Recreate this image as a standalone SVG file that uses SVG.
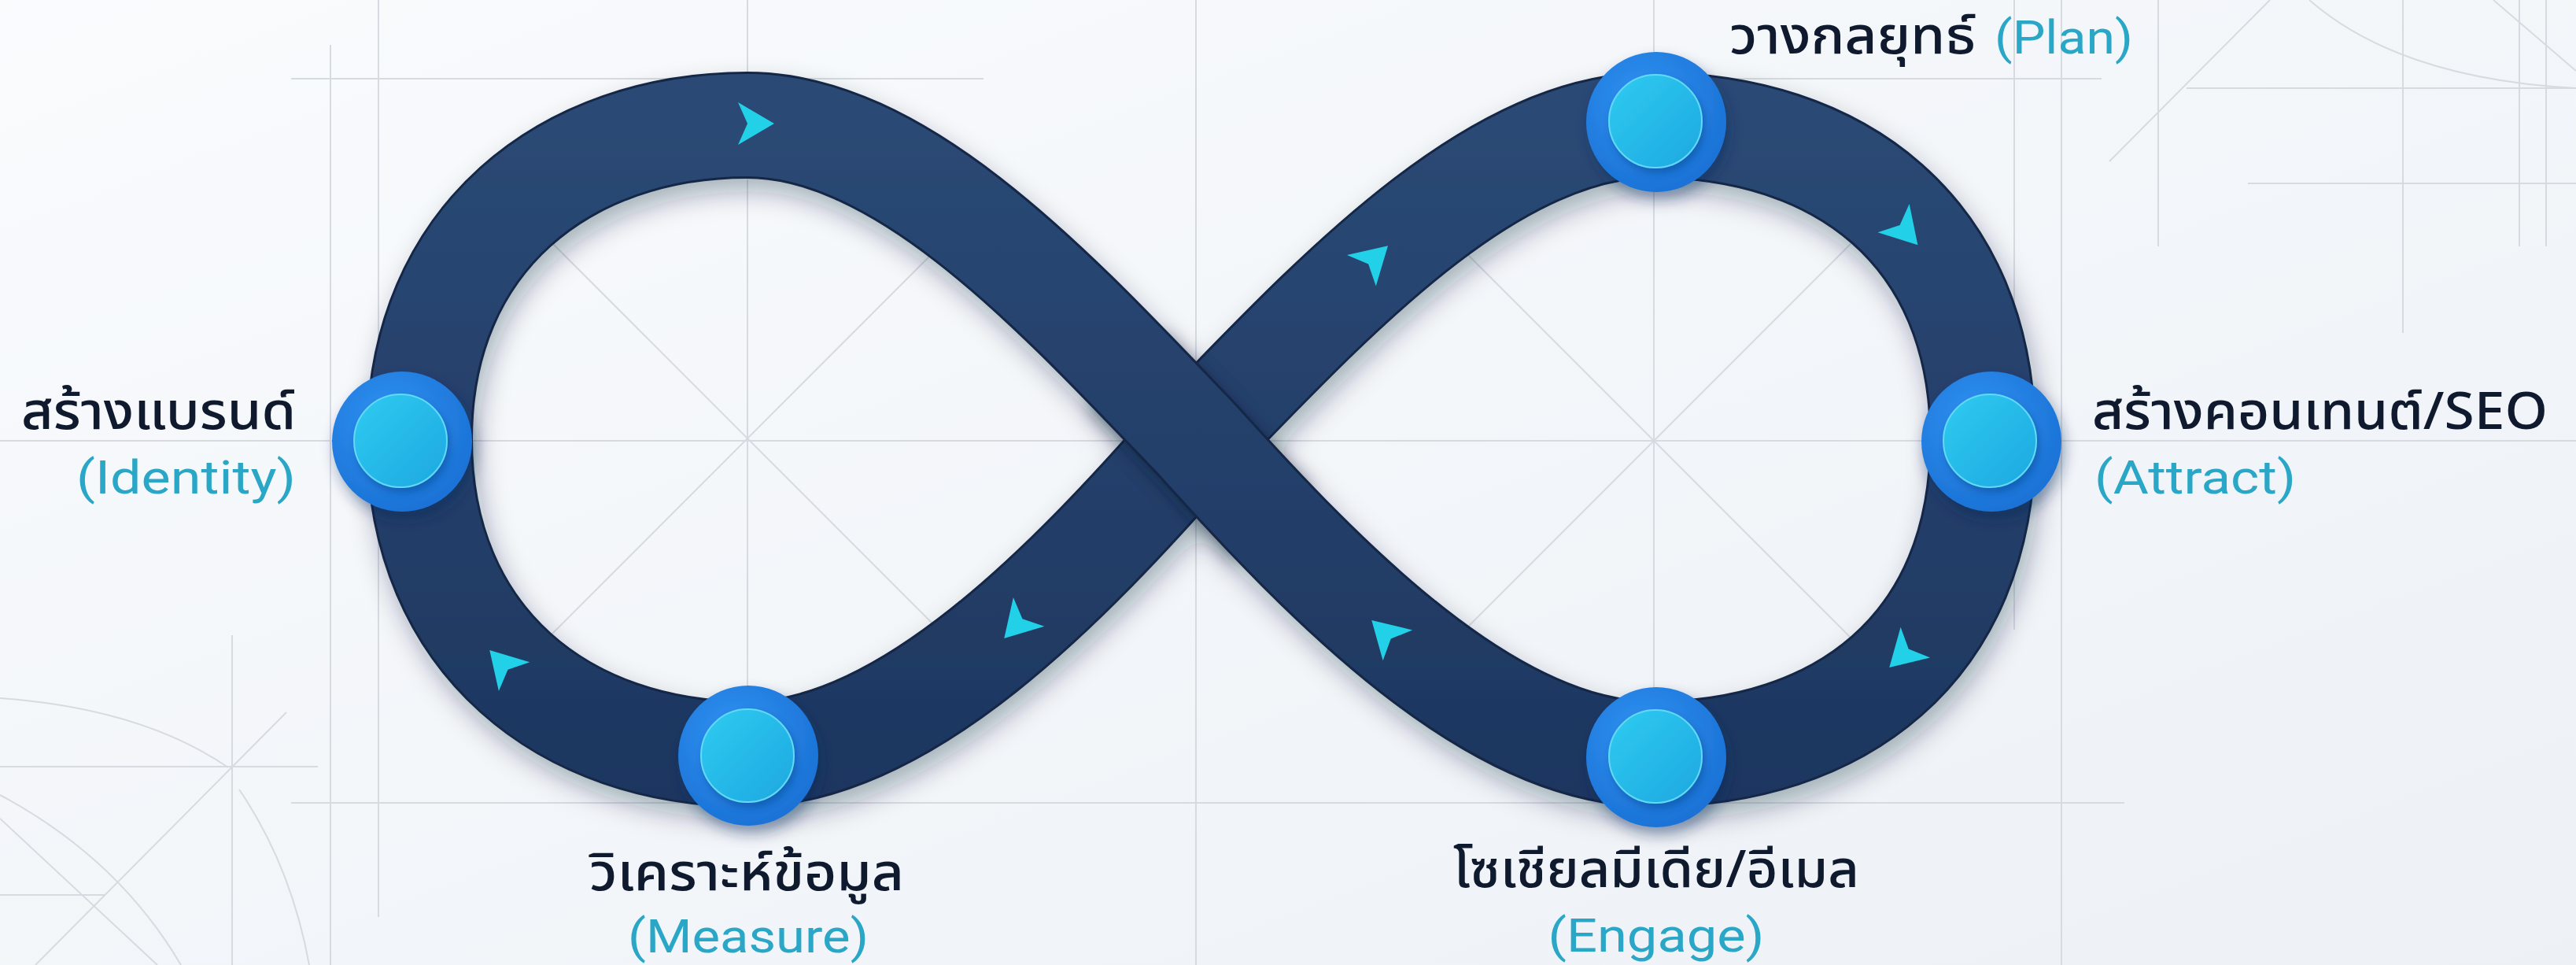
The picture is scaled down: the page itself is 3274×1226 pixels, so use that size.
<svg xmlns="http://www.w3.org/2000/svg" width="3274" height="1226" viewBox="0 0 3274 1226">
<defs>
  <linearGradient id="bg" x1="0" y1="0" x2="1" y2="1">
    <stop offset="0" stop-color="#f9fbfd"/>
    <stop offset="1" stop-color="#edf1f6"/>
  </linearGradient>
  <linearGradient id="band" gradientUnits="userSpaceOnUse" x1="0" y1="90" x2="0" y2="1030">
    <stop offset="0" stop-color="#2b4a76"/>
    <stop offset="1" stop-color="#1d365f"/>
  </linearGradient>
  <radialGradient id="ring" cx="0.4" cy="0.35" r="0.7">
    <stop offset="0" stop-color="#2f93f2"/>
    <stop offset="1" stop-color="#1a70d4"/>
  </radialGradient>
  <linearGradient id="core" x1="0" y1="0" x2="1" y2="1">
    <stop offset="0" stop-color="#30cbf0"/>
    <stop offset="1" stop-color="#1ca8e1"/>
  </linearGradient>
  <filter id="bandShadow" x="-10%" y="-20%" width="120%" height="140%">
    <feDropShadow dx="6" dy="16" stdDeviation="16" flood-color="#0d1c36" flood-opacity="0.32"/>
  </filter>
  <filter id="xShadow" x="-20%" y="-20%" width="140%" height="140%">
    <feGaussianBlur stdDeviation="12"/>
  </filter>
  <filter id="nodeShadow" x="-40%" y="-40%" width="180%" height="180%">
    <feDropShadow dx="4" dy="10" stdDeviation="9" flood-color="#0a2a5a" flood-opacity="0.4"/>
  </filter>
  <filter id="coreShadow" x="-30%" y="-30%" width="160%" height="160%">
    <feDropShadow dx="3" dy="6" stdDeviation="5" flood-color="#0b3f86" flood-opacity="0.45"/>
  </filter>
  <path id="arw" d="M26,0 L-20,-27 L-8,0 L-20,27 Z"/>
</defs>
<style>
  .grid { stroke:#d6dbe2; stroke-width:2; fill:none; }
  .edge { fill:none; stroke:#132846; stroke-width:136; stroke-linecap:butt; }
  .fill { fill:none; stroke:url(#band); stroke-width:130; stroke-linecap:butt; }
  .arrow { fill:#22d0e8; }
  .ring { fill:url(#ring); }
  .core { fill:url(#core); stroke:#62d9f6; stroke-width:2; }
  .th { font-family:'Noto Sans Thai','Noto Sans','Liberation Sans',sans-serif; font-size:66px; font-weight:500; fill:#0f1a2e; }
  .en { font-family:Roboto,'Liberation Sans',sans-serif; font-size:60px; font-weight:400; fill:#2aa7c7; }
</style>

<rect x="0" y="0" width="3274" height="1226" fill="url(#bg)"/>

<g id="background-grid" class="grid">
  <line x1="295" y1="807" x2="295" y2="1226"/>
  <line x1="420" y1="57" x2="420" y2="1226"/>
  <line x1="481" y1="0" x2="481" y2="1165"/>
  <line x1="950" y1="0" x2="950" y2="1020"/>
  <line x1="1520" y1="0" x2="1520" y2="1226"/>
  <line x1="2102" y1="0" x2="2102" y2="1020"/>
  <line x1="2560" y1="0" x2="2560" y2="800"/>
  <line x1="2620" y1="0" x2="2620" y2="1226"/>
  <line x1="2743" y1="0" x2="2743" y2="313"/>
  <line x1="3054" y1="0" x2="3054" y2="423"/>
  <line x1="3202" y1="0" x2="3202" y2="313"/>
  <line x1="3236" y1="0" x2="3236" y2="313"/>
  <line x1="370" y1="100" x2="1250" y2="100"/>
  <line x1="2180" y1="100" x2="2671" y2="100"/>
  <line x1="2779" y1="112" x2="3274" y2="112"/>
  <line x1="2857" y1="233" x2="3274" y2="233"/>
  <line x1="0" y1="560" x2="3274" y2="560"/>
  <line x1="0" y1="974" x2="404" y2="974"/>
  <line x1="370" y1="1020" x2="2700" y2="1020"/>
  <line x1="0" y1="1137" x2="134" y2="1137"/>
  <line x1="653" y1="260" x2="1247" y2="854"/>
  <line x1="1247" y1="260" x2="653" y2="854"/>
  <line x1="1805" y1="263" x2="2399" y2="857"/>
  <line x1="2399" y1="263" x2="1805" y2="857"/>
  <line x1="0" y1="1040" x2="200" y2="1226"/>
  <line x1="364" y1="905" x2="45" y2="1226"/>
  <path d="M0,887 Q180,900 290,975"/>
  <path d="M304,1003 Q370,1100 393,1226"/>
  <path d="M0,1010 Q150,1090 230,1226"/>
  <line x1="2681" y1="205" x2="2885" y2="0"/>
  <line x1="3169" y1="0" x2="3274" y2="90"/>
  <path d="M2935,0 Q3050,100 3274,112"/>
</g>

<g id="connectors">
  <g filter="url(#bandShadow)">
    <path class="edge" d="M2100,958 C2335,958 2520,826 2520,558 C2520,292 2335,159 2100,159 C1895,159 1692,380 1520,557 C1360,740 1150,958 950,958 C720,958 533,816 533,558 C533,302 720,159 950,159"/>
    <path class="fill" d="M2100,958 C2335,958 2520,826 2520,558 C2520,292 2335,159 2100,159 C1895,159 1692,380 1520,557 C1360,740 1150,958 950,958 C720,958 533,816 533,558 C533,302 720,159 950,159"/>
    <path d="M950,159 C1150,159 1350,380 1520,557 C1685,740 1895,958 2100,958" fill="none" stroke="#08152b" stroke-width="130" pathLength="1000" stroke-dasharray="0 400 190 2000" opacity="0.55" transform="translate(6,12)" filter="url(#xShadow)"/>
    <path class="edge" d="M950,159 C1150,159 1350,380 1520,557 C1685,740 1895,958 2100,958"/>
    <path class="fill" d="M950,159 C1150,159 1350,380 1520,557 C1685,740 1895,958 2100,958"/>
  </g>
  <g id="flow-arrows" class="arrow">
    <use href="#arw" transform="translate(958,157) rotate(0)"/>
    <use href="#arw" transform="translate(1745,330) rotate(-43)"/>
    <use href="#arw" transform="translate(2420,292) rotate(48)"/>
    <use href="#arw" transform="translate(2420,830) rotate(136)"/>
    <use href="#arw" transform="translate(1762,806) rotate(-136)"/>
    <use href="#arw" transform="translate(1294,792) rotate(133)"/>
    <use href="#arw" transform="translate(640,845) rotate(-133)"/>
  </g>
</g>

<g id="node-identity">
  <g filter="url(#nodeShadow)"><circle class="ring" cx="511" cy="561" r="89"/></g>
  <g filter="url(#coreShadow)"><circle class="core" cx="509" cy="560" r="59"/></g>
  <text class="th" x="376" y="545" text-anchor="end" textLength="349" lengthAdjust="spacingAndGlyphs">สร้างแบรนด์</text>
  <text class="en" x="376" y="627" text-anchor="end" textLength="279" lengthAdjust="spacingAndGlyphs">(Identity)</text>
</g>

<g id="node-plan">
  <g filter="url(#nodeShadow)"><circle class="ring" cx="2105" cy="155" r="89"/></g>
  <g filter="url(#coreShadow)"><circle class="core" cx="2104" cy="154" r="59"/></g>
  <text class="th" x="2198" y="68" textLength="313" lengthAdjust="spacingAndGlyphs">วางกลยุทธ์</text>
  <text class="en" x="2535" y="68" textLength="176" lengthAdjust="spacingAndGlyphs">(Plan)</text>
</g>

<g id="node-attract">
  <g filter="url(#nodeShadow)"><circle class="ring" cx="2531" cy="561" r="89"/></g>
  <g filter="url(#coreShadow)"><circle class="core" cx="2529" cy="560" r="59"/></g>
  <text class="th" x="2659" y="545" textLength="579" lengthAdjust="spacingAndGlyphs">สร้างคอนเทนต์/SEO</text>
  <text class="en" x="2662" y="627" textLength="256" lengthAdjust="spacingAndGlyphs">(Attract)</text>
</g>

<g id="node-engage">
  <g filter="url(#nodeShadow)"><circle class="ring" cx="2105" cy="962" r="89"/></g>
  <g filter="url(#coreShadow)"><circle class="core" cx="2104" cy="961" r="59"/></g>
  <text class="th" x="2105" y="1127" text-anchor="middle" textLength="516" lengthAdjust="spacingAndGlyphs">โซเชียลมีเดีย/อีเมล</text>
  <text class="en" x="2105" y="1209" text-anchor="middle" textLength="275" lengthAdjust="spacingAndGlyphs">(Engage)</text>
</g>

<g id="node-measure">
  <g filter="url(#nodeShadow)"><circle class="ring" cx="951" cy="960" r="89"/></g>
  <g filter="url(#coreShadow)"><circle class="core" cx="950" cy="960" r="59"/></g>
  <text class="th" x="949" y="1131" text-anchor="middle" textLength="400" lengthAdjust="spacingAndGlyphs">วิเคราะห์ข้อมูล</text>
  <text class="en" x="951" y="1210" text-anchor="middle" textLength="306" lengthAdjust="spacingAndGlyphs">(Measure)</text>
</g>
</svg>
